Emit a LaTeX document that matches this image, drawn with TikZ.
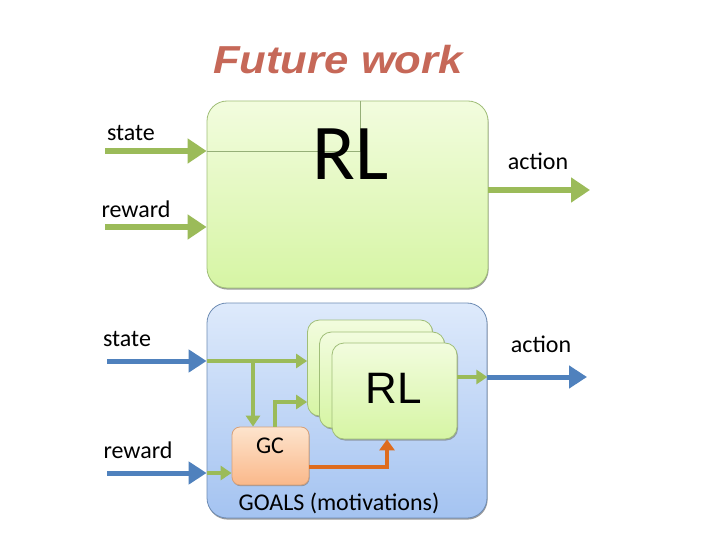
\documentclass[tikz,border=0pt]{standalone}
\usepackage{fontspec}
\setmainfont{Carlito}
\newfontfamily\arialfont{Liberation Sans}
\usetikzlibrary{arrows.meta,shadows}
\definecolor{ogreen}{RGB}{155,187,89}
\definecolor{oblue}{RGB}{79,129,189}
\definecolor{oorange}{RGB}{222,108,30}
\definecolor{titlecol}{RGB}{198,104,88}
\definecolor{gtop}{RGB}{242,252,222}
\definecolor{gbot}{RGB}{214,245,164}
\definecolor{gborder}{RGB}{160,190,120}
\definecolor{btop}{RGB}{222,234,251}
\definecolor{bbot}{RGB}{164,195,241}
\definecolor{bborder}{RGB}{110,140,180}
\definecolor{otop}{RGB}{253,228,205}
\definecolor{obot}{RGB}{250,184,138}
\definecolor{oborder}{RGB}{215,160,120}
\definecolor{thinline}{RGB}{150,175,120}
\tikzset{
  lbl/.style={font=\fontsize{24}{28}\selectfont, anchor=base, inner sep=0pt},
  topbox/.style={draw=gborder, line width=0.8pt, rounded corners=20pt, top color=gtop, bottom color=gbot,
    minimum width=281pt, minimum height=187pt, inner sep=0pt,
    drop shadow={shadow xshift=0.6pt, shadow yshift=-1.6pt, opacity=0.7, fill=black!55}},
  lowbox/.style={draw=bborder, line width=0.8pt, rounded corners=20pt, top color=btop, bottom color=bbot,
    minimum width=280pt, minimum height=215pt, inner sep=0pt,
    drop shadow={shadow xshift=0.6pt, shadow yshift=-1.6pt, opacity=0.7, fill=black!55}},
  rlbox/.style={draw=gborder, line width=0.8pt, rounded corners=12pt, top color=gtop, bottom color=gbot,
    minimum width=125pt, minimum height=96pt, inner sep=0pt,
    drop shadow={shadow xshift=1pt, shadow yshift=-1.5pt, opacity=0.6, fill=black!55}},
  gcbox/.style={draw=oborder, line width=0.8pt, rounded corners=8pt, top color=otop, bottom color=obot,
    minimum width=77pt, minimum height=58pt, inner sep=0pt,
    drop shadow={shadow xshift=0.6pt, shadow yshift=-1.2pt, opacity=0.6, fill=black!55}},
  bigG/.style={draw=ogreen, line width=6pt, -{Triangle[width=24pt,length=19pt]}},
  bigB/.style={draw=oblue, line width=5pt, -{Triangle[width=22pt,length=18pt]}},
  smallG/.style={draw=ogreen, line width=4.5pt, -{Triangle[width=14pt,length=11pt]}},
  orangeA/.style={draw=oorange, line width=4pt, -{Triangle[width=15pt,length=11pt]}},
}
\begin{document}
\begin{tikzpicture}[x=1pt,y=-1pt]
\useasboundingbox[fill=white] (0,0) rectangle (720,540);

% title
\node[anchor=base, inner sep=0pt, text=titlecol] (title) at (338,74)
  {\scalebox{1.12}[1]{\fontsize{39}{44}\selectfont\arialfont\bfseries\itshape Future work}};

% ---------- top part ----------
\node[topbox] (rltop) at (347.5,194.5) {};
\coordinate (tl) at (360,151);
\draw[thinline, line width=0.6pt] (rltop.west |- tl) -- (tl) -- (tl |- rltop.north);
\node[anchor=base, inner sep=0pt, font=\fontsize{79}{90}\selectfont] (rltoptxt) at (351,180) {RL};

\coordinate (sin1) at (105,151);
\coordinate (rin1) at (105,227);
\coordinate (aout1) at (590,190);
\draw[bigG] (sin1) -- (sin1 -| rltop.west);
\draw[bigG] (rin1) -- (rin1 -| rltop.west);
\draw[bigG] (aout1 -| rltop.east) -- (aout1);
\node[lbl] (st1) at (131,141) {state};
\node[lbl] (rw1) at (136,218) {reward};
\node[lbl] (ac1) at (538,170) {action};

% ---------- bottom part ----------
\node[lowbox] (goals) at (347,410.5) {};

\coordinate (sin2) at (107,361);
\coordinate (rin2) at (107,473);
\coordinate (aout2) at (587,377);
\coordinate (br) at (253,361);
\coordinate (gcup) at (275,402);
\coordinate (oc) at (387,467);

\node[rlbox] (rl3) at (370,368) {};
\node[rlbox] (rl2) at (382,380) {};
\node[rlbox] (rl1) at (394.5,391) {};
\node[anchor=base, inner sep=0pt, font=\fontsize{44}{50}\selectfont\arialfont] (rltxt) at (393.5,403) {RL};

\node[gcbox] (gc) at (270.5,456) {};
\node[lbl] (gctxt) at (270,453) {GC};

\draw[smallG] (sin2 -| goals.west) -- (sin2 -| rl3.west);
\draw[smallG] (br) -- (br |- gc.north);
\draw[smallG] (gcup |- gc.north) -- (gcup) -- (gcup -| rl3.west);
\draw[smallG] (rin2 -| goals.west) -- (rin2 -| gc.west);
\draw[orangeA] (oc -| gc.east) -- (oc) -- (oc |- rl1.south);
\draw[smallG] (aout2 -| rl1.east) -- (aout2 -| goals.east);

\draw[bigB] (sin2) -- (sin2 -| goals.west);
\draw[bigB] (rin2) -- (rin2 -| goals.west);
\draw[bigB] (aout2 -| goals.east) -- (aout2);

\node[lbl] (goalstxt) at (339,510) {GOALS (motivations)};
\node[lbl] (st2) at (127,346) {state};
\node[lbl] (rw2) at (138,458) {reward};
\node[lbl] (ac2) at (541,352) {action};
\end{tikzpicture}
\end{document}
